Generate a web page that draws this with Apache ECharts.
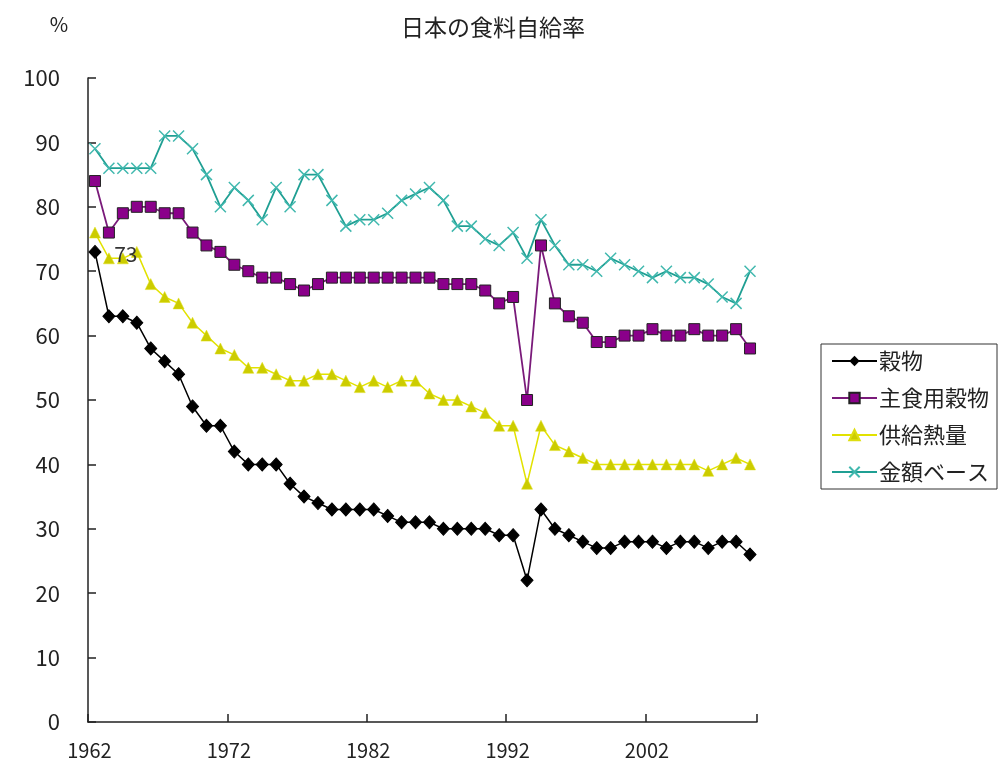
<!DOCTYPE html>
<html>
<head>
<meta charset="utf-8">
<script src="https://cdn.jsdelivr.net/npm/echarts@6/dist/echarts.min.js"></script>
<style>
html,body{margin:0;padding:0;background:#fff;}
#c{width:1007px;height:760px;}
</style>
</head>
<body>
<div id="c"></div>
<script>
const years = ['1962','1963','1964','1965','1966','1967','1968','1969','1970','1971',
  '1972','1973','1974','1975','1976','1977','1978','1979','1980','1981',
  '1982','1983','1984','1985','1986','1987','1988','1989','1990','1991',
  '1992','1993','1994','1995','1996','1997','1998','1999','2000','2001',
  '2002','2003','2004','2005','2006','2007','2008','2009'];
const cereal = [73,63,63,62,58,56,54,49,46,46,42,40,40,40,37,35,34,33,33,33,
  33,32,31,31,31,30,30,30,30,29,29,22,33,30,29,28,27,27,28,28,28,27,28,28,27,28,28,26];
const stapleCereal = [84,76,79,80,80,79,79,76,74,73,71,70,69,69,68,67,68,69,69,69,
  69,69,69,69,69,68,68,68,67,65,66,50,74,65,63,62,59,59,60,60,61,60,60,61,60,60,61,58];
const calorie = [76,72,72,73,68,66,65,62,60,58,57,55,55,54,53,53,54,54,53,52,
  53,52,53,53,51,50,50,49,48,46,46,37,46,43,42,41,40,40,40,40,40,40,40,40,39,40,41,40];
const valueBase = [89,86,86,86,86,91,91,89,85,80,83,81,78,83,80,85,85,81,77,78,
  78,79,81,82,83,81,77,77,75,74,76,72,78,74,71,71,70,72,71,70,69,70,69,69,68,66,65,70];
const seriesNames = ['穀物','主食用穀物','供給熱量','金額ベース'];
const labelledIndex = 3;

const FONT = 'Noto Sans CJK JP';
const chart = echarts.init(document.getElementById('c'), null, {renderer:'canvas'});

const calorieData = calorie.map((v, i) => i === labelledIndex ? {
  value: v,
  label: {show: true, position: 'inside', offset: [-11, 2], formatter: '{c}',
    fontSize: 21, color: '#333', fontFamily: FONT}
} : v);

chart.setOption({
  animation: false,
  backgroundColor: '#fff',
  title: {
    text: '日本の食料自給率',
    left: 396, top: 11,
    textStyle: {fontSize: 23, fontWeight: 'normal', color: '#222', fontFamily: FONT}
  },
  grid: {left: 88, right: 250, top: 78, bottom: 38, containLabel: false},
  legend: {
    orient: 'vertical',
    left: 821, top: 344,
    padding: [6, 8, 6, 10],
    itemWidth: 45, itemHeight: 13, itemGap: 15,
    borderColor: '#333', borderWidth: 1,
    textStyle: {fontSize: 22, color: '#222', fontFamily: FONT, padding: [0,0,0,-3]},
    data: seriesNames
  },
  xAxis: {
    type: 'category',
    data: years,
    boundaryGap: true,
    axisLine: {lineStyle: {color: '#222', width: 1.5}},
    axisTick: {show: true, inside: true, length: 8, interval: 9, lineStyle: {color: '#222', width: 1.5}},
    axisLabel: {interval: 9, margin: 18, fontSize: 20, color: '#222', fontFamily: FONT,
      padding: [0, 11, 0, 0]},
    splitLine: {show: false}
  },
  yAxis: {
    type: 'value',
    min: 0, max: 100, interval: 10,
    name: '%',
    nameLocation: 'end',
    nameGap: 44,
    nameTextStyle: {fontSize: 20, color: '#222', fontFamily: FONT, padding: [0, 58, 0, 0]},
    axisLine: {show: true, lineStyle: {color: '#222', width: 1.5}},
    axisTick: {show: true, inside: true, length: 8, lineStyle: {color: '#222', width: 1.5}},
    axisLabel: {margin: 28, fontSize: 22, color: '#222', fontFamily: FONT},
    splitLine: {show: false}
  },
  series: [
    {
      name: seriesNames[0], type: 'line', data: cereal, showAllSymbol: true,
      symbol: 'diamond', symbolSize: [12, 13],
      lineStyle: {color: '#000', width: 1.5},
      itemStyle: {color: '#000', borderColor: '#000'}
    },
    {
      name: seriesNames[1], type: 'line', data: stapleCereal, showAllSymbol: true,
      symbol: 'rect', symbolSize: 11,
      lineStyle: {color: '#7a1a7a', width: 1.8},
      itemStyle: {color: '#8a008a', borderColor: '#222', borderWidth: 1}
    },
    {
      name: seriesNames[2], type: 'line', data: calorieData, showAllSymbol: true,
      symbol: 'triangle', symbolSize: 11,
      lineStyle: {color: '#e2e200', width: 1.5},
      itemStyle: {color: '#cccc00', borderColor: '#dede10', borderWidth: 0.5}
    },
    {
      name: seriesNames[3], type: 'line', data: valueBase, showAllSymbol: true,
      symbol: 'path://M0,0L10,10M10,0L0,10', symbolSize: 11,
      lineStyle: {color: '#1f9f93', width: 1.8},
      itemStyle: {color: 'none', borderColor: '#40b8ae', borderWidth: 1.5}
    }
  ]
});
</script>
</body>
</html>
